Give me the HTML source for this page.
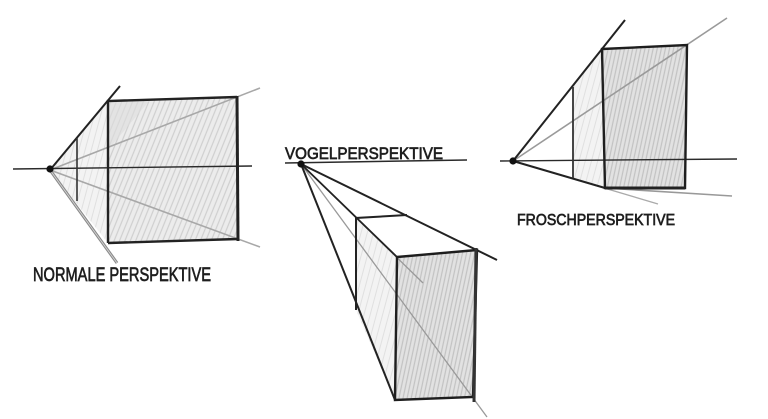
<!DOCTYPE html>
<html><head><meta charset="utf-8">
<style>
html,body{margin:0;padding:0;background:#fff;}
svg{display:block;}
text{font-family:"Liberation Sans",sans-serif;fill:#1e1e1e;stroke:#1e1e1e;stroke-width:0.7;}
</style></head>
<body>
<svg width="768" height="419" viewBox="0 0 768 419" xmlns="http://www.w3.org/2000/svg">
<defs>
<pattern id="h1" width="5" height="12" patternUnits="userSpaceOnUse" patternTransform="rotate(22)">
<rect width="5" height="12" fill="#ececec"/>
<line x1="1" y1="0" x2="1" y2="12" stroke="#cfcfcf" stroke-width="1.2"/>
</pattern>
<pattern id="h2" width="4" height="10" patternUnits="userSpaceOnUse" patternTransform="rotate(12)">
<rect width="4" height="10" fill="#e2e2e2"/>
<line x1="1" y1="0" x2="1" y2="10" stroke="#c2c2c2" stroke-width="1.2"/>
</pattern>
<pattern id="h3" width="6" height="12" patternUnits="userSpaceOnUse" patternTransform="rotate(15)">
<rect width="6" height="12" fill="#f3f3f3"/>
<line x1="1" y1="0" x2="1" y2="12" stroke="#e0e0e0" stroke-width="1"/>
</pattern>
</defs>

<!-- ========== Figure 1: Normale Perspektive ========== -->
<polygon points="50,170 108,101 108,243" fill="url(#h3)"/>
<polygon points="108,101 237,97 238,240 108,243" fill="url(#h1)"/>
<polygon points="108,101 150,100 108,150" fill="#dedede" opacity="0.6"/>
<line x1="50" y1="170" x2="260" y2="88" stroke="#a8a8a8" stroke-width="1.6"/>
<line x1="50" y1="170" x2="260" y2="247" stroke="#a8a8a8" stroke-width="1.6"/>
<line x1="50" y1="170" x2="117" y2="263" stroke="#8a8a8a" stroke-width="3"/>
<line x1="50" y1="170" x2="117" y2="263" stroke="#d8d8d8" stroke-width="0.8"/>
<line x1="13" y1="169" x2="252" y2="166" stroke="#2a2a2a" stroke-width="1.4"/>
<line x1="50" y1="170" x2="120" y2="86" stroke="#222" stroke-width="2"/>
<line x1="77" y1="138" x2="77" y2="201" stroke="#333" stroke-width="1.6"/>
<polyline points="108,243 108,101 237,97" fill="none" stroke="#222" stroke-width="2.4"/>
<line x1="108" y1="243" x2="238" y2="239" stroke="#222" stroke-width="2.4"/>
<line x1="237" y1="96" x2="238" y2="241" stroke="#222" stroke-width="3"/>
<circle cx="50" cy="169" r="3.6" fill="#111"/>
<text x="33" y="281" font-size="19" textLength="178" lengthAdjust="spacingAndGlyphs">NORMALE PERSPEKTIVE</text>

<!-- ========== Figure 2: Vogelperspektive ========== -->
<polygon points="356,218 397,257 395,400 356,310" fill="url(#h3)"/>
<polygon points="397,257 477,250 473,397 395,400" fill="url(#h2)"/>
<line x1="301" y1="164" x2="423" y2="283" stroke="#999" stroke-width="1.3"/>
<line x1="301" y1="164" x2="487" y2="417" stroke="#999" stroke-width="1.3"/>
<line x1="301" y1="164" x2="393" y2="395" stroke="#aaa" stroke-width="1.2"/>
<line x1="301" y1="164" x2="477" y2="250" stroke="#aaa" stroke-width="1.2"/>
<line x1="285" y1="163" x2="467" y2="160" stroke="#2a2a2a" stroke-width="1.5"/>
<line x1="301" y1="164" x2="497" y2="260" stroke="#222" stroke-width="2"/>
<line x1="301" y1="164" x2="395" y2="400" stroke="#222" stroke-width="2"/>
<line x1="301" y1="164" x2="397" y2="257" stroke="#222" stroke-width="1.8"/>
<polyline points="356,310 356,218 407,215" fill="none" stroke="#222" stroke-width="2"/>
<polygon points="397,257 477,250 473,397 395,400" fill="none" stroke="#1e1e1e" stroke-width="2.4"/>
<line x1="476" y1="248" x2="474" y2="402" stroke="#333" stroke-width="3"/>
<circle cx="301" cy="164" r="3.6" fill="#111"/>
<text x="285" y="159" font-size="17" textLength="158" lengthAdjust="spacingAndGlyphs">VOGELPERSPEKTIVE</text>

<!-- ========== Figure 3: Froschperspektive ========== -->
<polygon points="573,87 602,49 605,188 573,178" fill="url(#h3)"/>
<polygon points="602,49 687,45 685,188 605,188" fill="url(#h2)"/>
<line x1="513" y1="161" x2="727" y2="18" stroke="#9a9a9a" stroke-width="1.6"/>
<line x1="605" y1="188" x2="732" y2="196" stroke="#999" stroke-width="1.6"/>
<line x1="513" y1="161" x2="658" y2="204" stroke="#aaa" stroke-width="1.3"/>
<line x1="500" y1="161" x2="737" y2="159" stroke="#2a2a2a" stroke-width="1.4"/>
<line x1="513" y1="161" x2="625" y2="20" stroke="#222" stroke-width="2"/>
<line x1="513" y1="161" x2="605" y2="188" stroke="#222" stroke-width="2"/>
<line x1="573" y1="87" x2="573" y2="178" stroke="#333" stroke-width="1.8"/>
<polygon points="602,49 687,45 685,188 605,188" fill="none" stroke="#1e1e1e" stroke-width="2.4"/>
<line x1="605" y1="188" x2="685" y2="188" stroke="#222" stroke-width="3"/>
<circle cx="513" cy="161" r="3.6" fill="#111"/>
<text x="517" y="225" font-size="16" textLength="158" lengthAdjust="spacingAndGlyphs">FROSCHPERSPEKTIVE</text>
</svg>
</body></html>
